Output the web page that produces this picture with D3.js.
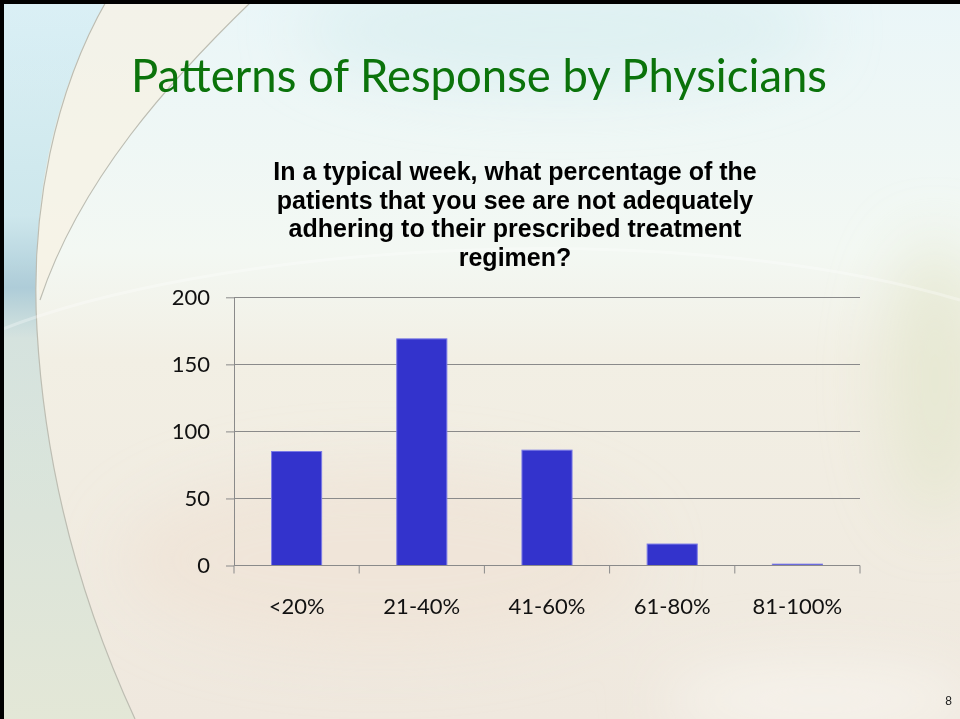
<!DOCTYPE html>
<html>
<head>
<meta charset="utf-8">
<script src="https://cdn.jsdelivr.net/npm/d3@7"></script>
<style>
  body { margin: 0; padding: 0; overflow: hidden; }
  svg { display: block; }
</style>
</head>
<body>
<script>
// chart data
var categories = ["<20%", "21-40%", "41-60%", "61-80%", "81-100%"];
var counts = [85, 169, 86, 16, 1];
var yTicks = [0, 50, 100, 150, 200];
var slideTitle = "Patterns of Response by Physicians";
var questionLines = [
  "In a typical week, what percentage of the",
  "patients that you see are not adequately",
  "adhering to their prescribed treatment",
  "regimen?"
];

var width = 960, height = 719;

var svg = d3.select("body").append("svg")
  .attr("width", width)
  .attr("height", height);

var defs = svg.append("defs");

// slide background: light blue top fading to cream at the bottom
var bg = defs.append("linearGradient").attr("id", "bg")
  .attr("x1", 0).attr("y1", 0).attr("x2", 0).attr("y2", 1);
bg.append("stop").attr("offset", "0").attr("stop-color", "#eaf6f8");
bg.append("stop").attr("offset", "0.35").attr("stop-color", "#f3f8f3");
bg.append("stop").attr("offset", "0.5").attr("stop-color", "#f2efe4");
bg.append("stop").attr("offset", "1").attr("stop-color", "#efe8de");

var leftStrip = defs.append("linearGradient").attr("id", "leftStrip")
  .attr("x1", 0).attr("y1", 0).attr("x2", 0).attr("y2", 1);
leftStrip.append("stop").attr("offset", "0").attr("stop-color", "#d6eef4");
leftStrip.append("stop").attr("offset", "0.3").attr("stop-color", "#c4e2ea");
leftStrip.append("stop").attr("offset", "0.4").attr("stop-color", "#9cc2d2");
leftStrip.append("stop").attr("offset", "0.47").attr("stop-color", "#cddfdc");
leftStrip.append("stop").attr("offset", "1").attr("stop-color", "#e0e6d4");

var blur = defs.append("filter").attr("id", "soft")
  .attr("x", "-50%").attr("y", "-50%").attr("width", "200%").attr("height", "200%");
blur.append("feGaussianBlur").attr("stdDeviation", 30);

svg.append("rect")
  .attr("width", width).attr("height", height)
  .attr("fill", "url(#bg)");

// soft colour patches
var patches = svg.append("g").attr("filter", "url(#soft)");
patches.append("ellipse").attr("cx", 560).attr("cy", 30).attr("rx", 260).attr("ry", 60)
  .attr("fill", "#d9eef0").attr("opacity", 0.7);
patches.append("ellipse").attr("cx", 935).attr("cy", 380).attr("rx", 50).attr("ry", 140)
  .attr("fill", "#e2e5cc").attr("opacity", 0.7);
patches.append("ellipse").attr("cx", 380).attr("cy", 560).attr("rx", 260).attr("ry", 90)
  .attr("fill", "#efe2d6").attr("opacity", 0.7);
patches.append("ellipse").attr("cx", 820).attr("cy", 700).attr("rx", 160).attr("ry", 40)
  .attr("fill", "#f6f3ec").attr("opacity", 0.9);

// left side strip outside the big arc
svg.append("path")
  .attr("d", "M0,0 L107,0 C55,90 30,210 37,330 C45,470 80,600 135,719 L0,719 Z")
  .attr("fill", "url(#leftStrip)")
  .attr("opacity", 0.8);

// cream lens between the two arcs at the top left
svg.append("path")
  .attr("d", "M107,0 L253,0 C170,80 80,180 40,300 C30,200 55,90 107,0 Z")
  .attr("fill", "#f8f0e0")
  .attr("opacity", 0.6);

// decorative arcs
var arcs = svg.append("g").attr("fill", "none").attr("stroke", "#bdbdb2").attr("stroke-width", 1.2);
arcs.append("path").attr("d", "M107,0 C55,90 30,210 37,330 C45,470 80,600 135,719");
arcs.append("path").attr("d", "M253,0 C170,80 80,180 40,300");
arcs.append("path").attr("d", "M0,330 C200,250 650,210 960,300")
  .attr("stroke", "#ffffff").attr("stroke-width", 3).attr("opacity", 0.3);

// slide border (top and left edges)
svg.append("path")
  .attr("d", "M2,719 L2,2 L960,2")
  .attr("fill", "none").attr("stroke", "#000").attr("stroke-width", 4);

// title
svg.append("text")
  .attr("x", 131).attr("y", 92)
  .attr("textLength", 696).attr("lengthAdjust", "spacingAndGlyphs")
  .attr("font-family", "Lato, 'Open Sans', sans-serif")
  .attr("font-size", 46)
  .attr("fill", "#0b730b")
  .text(slideTitle);

// chart question
svg.append("g").selectAll("text")
  .data(questionLines)
  .enter()
  .append("text")
    .attr("x", 515)
    .attr("y", (d, i) => 180 + i * 28.7)
    .attr("text-anchor", "middle")
    .attr("font-family", "'Liberation Sans', Arial, sans-serif")
    .attr("font-weight", "bold")
    .attr("font-size", 25)
    .attr("fill", "#000")
    .text(d => d);

// scales
var x = d3.scaleBand()
  .domain(categories)
  .range([234, 860])
  .paddingInner(0.6)
  .paddingOuter(0.3);

var y = d3.scaleLinear()
  .domain([0, 200])
  .range([565.5, 297.3]);

var axisColor = "#8a8a8a";

// gridlines + y axis
var yAxis = svg.append("g")
  .attr("transform", "translate(234,0)")
  .call(d3.axisLeft(y).tickValues(yTicks).tickSize(8).tickPadding(16).tickSizeOuter(0));
yAxis.select(".domain").attr("stroke", axisColor);
yAxis.selectAll(".tick line").attr("stroke", axisColor);
yAxis.selectAll(".tick text")
  .attr("font-family", "Lato, 'Open Sans', sans-serif")
  .attr("font-size", 22)
  .attr("fill", "#111");

svg.append("g").selectAll("line")
  .data(yTicks.filter(d => d > 0))
  .enter()
  .append("line")
    .attr("x1", 234).attr("x2", 860)
    .attr("y1", d => Math.round(y(d)) + 0.5)
    .attr("y2", d => Math.round(y(d)) + 0.5)
    .attr("stroke", axisColor)
    .attr("stroke-width", 1);

// bars
svg.append("g").selectAll("rect")
  .data(counts)
  .enter()
  .append("rect")
    .attr("x", (d, i) => x(categories[i]))
    .attr("y", d => y(d))
    .attr("width", x.bandwidth())
    .attr("height", d => y(0) - y(d))
    .attr("fill", "#3333cc")
    .attr("stroke", "#7a7ae6")
    .attr("stroke-width", 1);

// x axis with ticks between categories
var xAxis = svg.append("g");
xAxis.append("line")
  .attr("x1", 234).attr("x2", 860)
  .attr("y1", y(0)).attr("y2", y(0))
  .attr("stroke", axisColor);
xAxis.selectAll("line.tick")
  .data(d3.range(categories.length + 1))
  .enter()
  .append("line")
    .attr("class", "tick")
    .attr("x1", i => 234 + i * x.step())
    .attr("x2", i => 234 + i * x.step())
    .attr("y1", y(0)).attr("y2", y(0) + 8)
    .attr("stroke", axisColor);
xAxis.selectAll("text")
  .data(categories)
  .enter()
  .append("text")
    .attr("x", d => x(d) + x.bandwidth() / 2)
    .attr("y", 614)
    .attr("text-anchor", "middle")
    .attr("font-family", "Lato, 'Open Sans', sans-serif")
    .attr("font-size", 22)
    .attr("fill", "#111")
    .text(d => d);

// page number
svg.append("text")
  .attr("x", 952).attr("y", 705)
  .attr("text-anchor", "end")
  .attr("font-family", "'Liberation Sans', Arial, sans-serif")
  .attr("font-size", 12)
  .attr("fill", "#222")
  .text("8");
</script>
</body>
</html>
